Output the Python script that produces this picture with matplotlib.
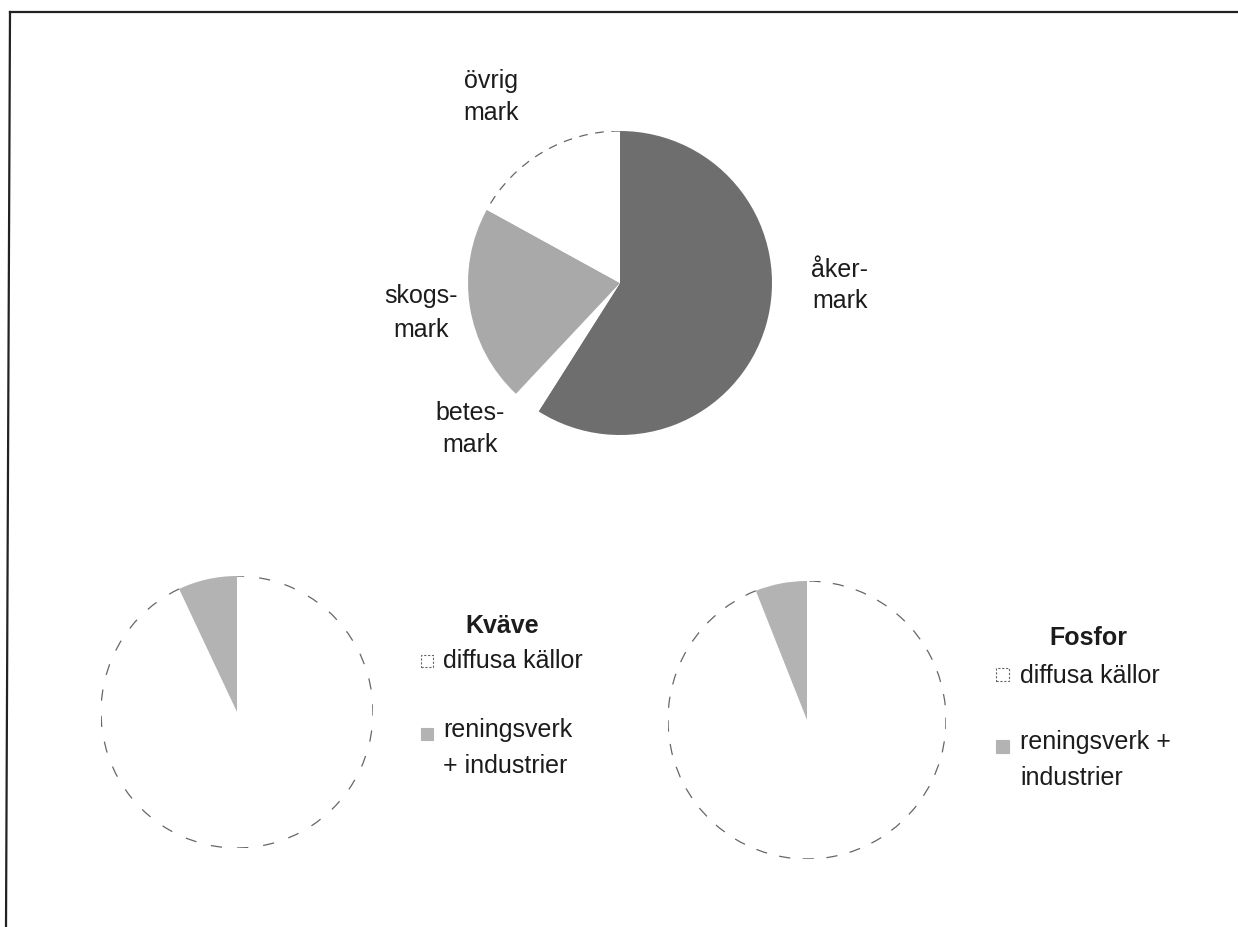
import matplotlib
matplotlib.use("Agg")
import matplotlib.pyplot as plt
from matplotlib.patches import Arc, Rectangle
from matplotlib.lines import Line2D

# Land use in the catchment (share, %)
land_labels = ["åker-\nmark", "betes-\nmark", "skogs-\nmark", "övrig\nmark"]
land_values = [59, 3, 21, 17]
land_colors = ["#6e6e6e", "#ffffff", "#a9a9a9", "#ffffff"]

# Sources of nitrogen and phosphorus load (share, %)
source_labels = ["diffusa källor", "reningsverk\n+ industrier"]
kvave_values = [93, 7]
fosfor_values = [94, 6]
source_colors = ["#ffffff", "#b3b3b3"]

W, H = 1238, 927
DPI = 100
fig = plt.figure(figsize=(W / DPI, H / DPI), dpi=DPI)
fig.patch.set_facecolor("white")

FONT = "Liberation Sans"
FS = 18
TXT = "#1c1c1c"


def fx(x):
    return x / W


def fy(y):
    return 1 - y / H


def pie_axes(cx, cy, r):
    return fig.add_axes([fx(cx - r), fy(cy + r), 2 * r / W, 2 * r / H])


def draw_pie(ax, values, colors, dash=(0, (7, 6))):
    wedges, _ = ax.pie(values, colors=colors, startangle=90, counterclock=False,
                       wedgeprops=dict(linewidth=0))
    ax.set_xlim(-1, 1)
    ax.set_ylim(-1, 1)
    ax.set_aspect("equal")
    ax.axis("off")
    # faint dashed outline around the larger white slices
    for w, c, v in zip(wedges, colors, values):
        if c.lower() == "#ffffff" and v >= 10:
            arc = Arc(w.center, 2 * w.r, 2 * w.r, theta1=w.theta1, theta2=w.theta2,
                      color="#666666", lw=0.9, linestyle=dash)
            ax.add_patch(arc)
    return wedges


def text_px(x, y, s, ha="left", bold=False):
    fig.text(fx(x), fy(y), s, ha=ha, va="baseline", fontsize=FS, family=FONT,
             color=TXT, fontweight="bold" if bold else "normal")


# Land-use pie
ax_top = pie_axes(620, 283, 152)
draw_pie(ax_top, land_values, land_colors)

# slice labels (two lines each: baseline pixel y per line)
label_pos = {
    "åker-\nmark": (840, [277, 308]),
    "betes-\nmark": (470, [420, 452]),
    "skogs-\nmark": (421, [303, 337]),
    "övrig\nmark": (491, [88, 120]),
}
for lab in land_labels:
    x, ys = label_pos[lab]
    for line, y in zip(lab.split("\n"), ys):
        text_px(x, y, line, ha="center")

# Nitrogen pie
ax_n = pie_axes(237, 712, 136)
draw_pie(ax_n, kvave_values, source_colors, dash=(0, (9, 12)))

# Phosphorus pie
ax_p = pie_axes(807, 720, 139)
draw_pie(ax_p, fosfor_values, source_colors, dash=(0, (9, 10)))


def legend_patch(x0, y0, size, color):
    dashed = color.lower() == "#ffffff"
    fig.patches.append(Rectangle((fx(x0), fy(y0 + size)), size / W, size / H,
                                 transform=fig.transFigure, facecolor=color,
                                 edgecolor="#666666" if dashed else color,
                                 lw=0.8, linestyle=(0, (2, 1.5)) if dashed else "-"))


# Nitrogen legend
text_px(502, 633, "Kväve", ha="center", bold=True)
legend_patch(421, 655, 12, source_colors[0])
text_px(443, 668, source_labels[0])
legend_patch(421, 728, 12, source_colors[1])
for line, y in zip(source_labels[1].split("\n"), [737, 773]):
    text_px(443, y, line)

# Phosphorus legend (wrapped differently)
text_px(1088, 645, "Fosfor", ha="center", bold=True)
legend_patch(996, 668, 13, source_colors[0])
text_px(1020, 683, source_labels[0])
legend_patch(996, 740, 13, source_colors[1])
for line, y in zip(["reningsverk +", "industrier"], [749, 785]):
    text_px(1020, y, line)

# Frame lines
fig.add_artist(Line2D([fx(10), fx(W)], [fy(12), fy(12)], transform=fig.transFigure,
                      color="#222222", lw=1.6))
fig.add_artist(Line2D([fx(10), fx(6)], [fy(12), fy(H)], transform=fig.transFigure,
                      color="#222222", lw=1.6))

fig.savefig("out.png", dpi=DPI, facecolor="white")
